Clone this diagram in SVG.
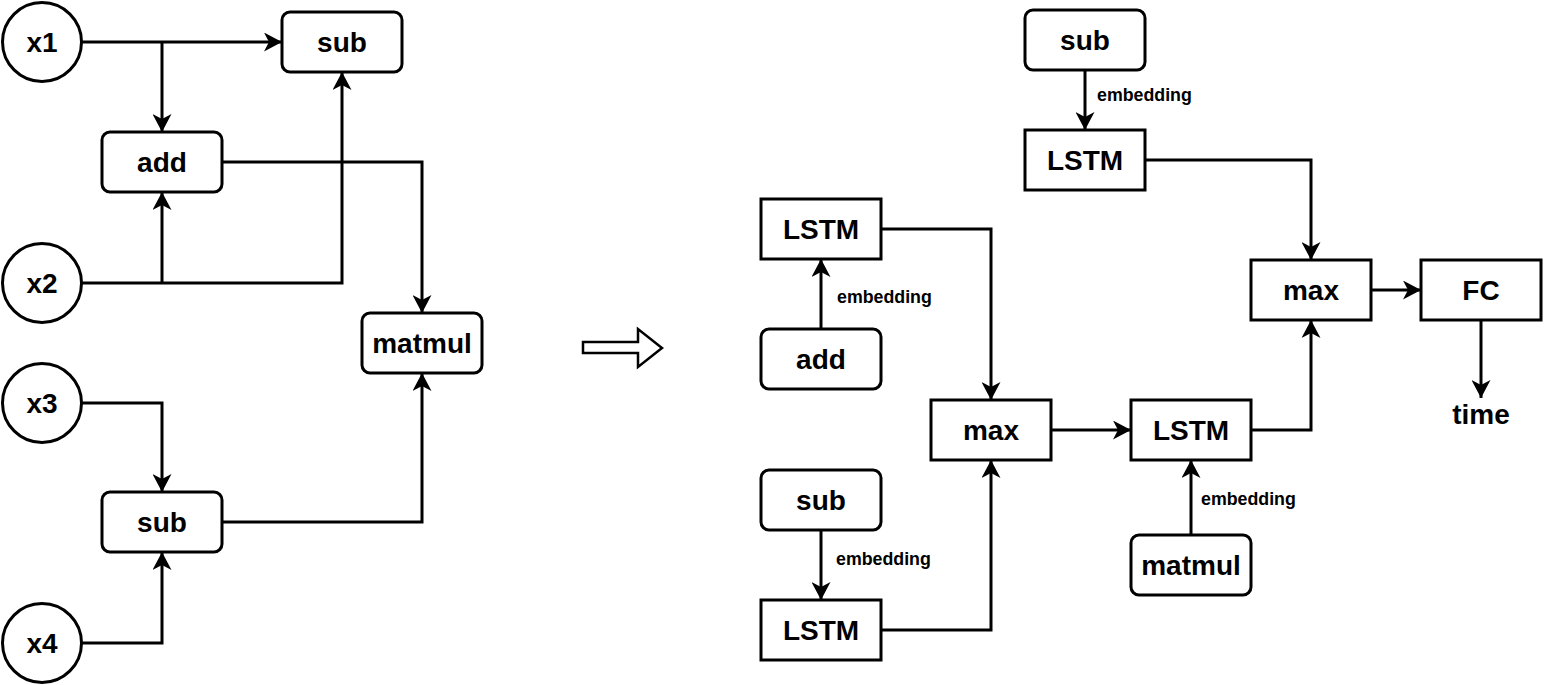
<svg xmlns="http://www.w3.org/2000/svg" width="1552" height="685" viewBox="0 0 1552 685">
<style>
.n{fill:#fff;stroke:#000;stroke-width:3}
.t{font-family:"Liberation Sans",Arial,sans-serif;font-weight:bold;font-size:28px;text-anchor:middle;fill:#000}
.e{font-family:"Liberation Sans",Arial,sans-serif;font-weight:bold;font-size:17.8px;fill:#000}
.c{fill:none;stroke:#000;stroke-width:3}
.a{marker-end:url(#arr)}
</style>
<defs>
<marker id="arr" markerUnits="userSpaceOnUse" markerWidth="19" markerHeight="19" refX="18" refY="9.5" orient="auto" viewBox="0 0 19 19">
<path d="M0,0 L18,9.5 L0,19 L5,9.5 Z" fill="#000"/>
</marker>
</defs>
<rect width="1552" height="685" fill="#fff"/>
<g id="connectors">
<path class="c a" d="M82,42 H282"/>
<path class="c a" d="M162,42 V132"/>
<path class="c a" d="M82,283 H342 V72"/>
<path class="c a" d="M162,283 V192"/>
<path class="c a" d="M222,162 H422 V313"/>
<path class="c a" d="M82,403 H162 V492"/>
<path class="c a" d="M82,643 H162 V552"/>
<path class="c a" d="M222,522 H422 V373"/>
<path class="c a" d="M1085,70 V130"/>
<path class="c a" d="M1145,160 H1311 V260"/>
<path class="c a" d="M821,329 V259"/>
<path class="c a" d="M881,229 H991 V400"/>
<path class="c a" d="M821,530 V600"/>
<path class="c a" d="M881,630 H991 V460"/>
<path class="c a" d="M1051,430 H1131"/>
<path class="c a" d="M1251,430 H1311 V320"/>
<path class="c a" d="M1191,535 V460"/>
<path class="c a" d="M1371,290 H1421"/>
<path class="c a" d="M1481,320 V398"/>
<text class="e" x="1097" y="101">embedding</text>
<text class="e" x="837" y="303">embedding</text>
<text class="e" x="836" y="565">embedding</text>
<text class="e" x="1201" y="505">embedding</text>
</g>
<g id="bigarrow">
<polygon points="583,342 638,342 638,329 662,348 638,367 638,353 583,353" fill="#fff" stroke="#000" stroke-width="2.5" stroke-linejoin="miter"/>
</g>
<g id="x1"><circle class="n" cx="42" cy="42" r="39.5"/><text class="t" x="42" y="52">x1</text></g>
<g id="x2"><circle class="n" cx="42" cy="283" r="39.5"/><text class="t" x="42" y="293">x2</text></g>
<g id="x3"><circle class="n" cx="42" cy="403" r="39.5"/><text class="t" x="42" y="413">x3</text></g>
<g id="x4"><circle class="n" cx="42" cy="643" r="39.5"/><text class="t" x="42" y="653">x4</text></g>
<g id="subL1"><rect class="n" x="282" y="12" width="120" height="60" rx="8"/><text class="t" x="342" y="52">sub</text></g>
<g id="addL"><rect class="n" x="102" y="132" width="120" height="60" rx="8"/><text class="t" x="162" y="172">add</text></g>
<g id="matmulL"><rect class="n" x="362" y="313" width="120" height="60" rx="8"/><text class="t" x="422" y="353">matmul</text></g>
<g id="subL2"><rect class="n" x="102" y="492" width="120" height="60" rx="8"/><text class="t" x="162" y="532">sub</text></g>
<g id="subR1"><rect class="n" x="1025" y="10" width="120" height="60" rx="8"/><text class="t" x="1085" y="50">sub</text></g>
<g id="lstmR1"><rect class="n" x="1025" y="130" width="120" height="60"/><text class="t" x="1085" y="170">LSTM</text></g>
<g id="lstmR2"><rect class="n" x="761" y="199" width="120" height="60"/><text class="t" x="821" y="239">LSTM</text></g>
<g id="addR"><rect class="n" x="761" y="329" width="120" height="60" rx="8"/><text class="t" x="821" y="369">add</text></g>
<g id="maxR1"><rect class="n" x="931" y="400" width="120" height="60"/><text class="t" x="991" y="440">max</text></g>
<g id="lstmR3"><rect class="n" x="1131" y="400" width="120" height="60"/><text class="t" x="1191" y="440">LSTM</text></g>
<g id="matmulR"><rect class="n" x="1131" y="535" width="120" height="60" rx="8"/><text class="t" x="1191" y="575">matmul</text></g>
<g id="subR2"><rect class="n" x="761" y="470" width="120" height="60" rx="8"/><text class="t" x="821" y="510">sub</text></g>
<g id="lstmR4"><rect class="n" x="761" y="600" width="120" height="60"/><text class="t" x="821" y="640">LSTM</text></g>
<g id="maxR2"><rect class="n" x="1251" y="260" width="120" height="60"/><text class="t" x="1311" y="300">max</text></g>
<g id="fc"><rect class="n" x="1421" y="260" width="120" height="60"/><text class="t" x="1481" y="300">FC</text></g>
<g id="time"><text class="t" x="1481" y="424">time</text></g>
</svg>
